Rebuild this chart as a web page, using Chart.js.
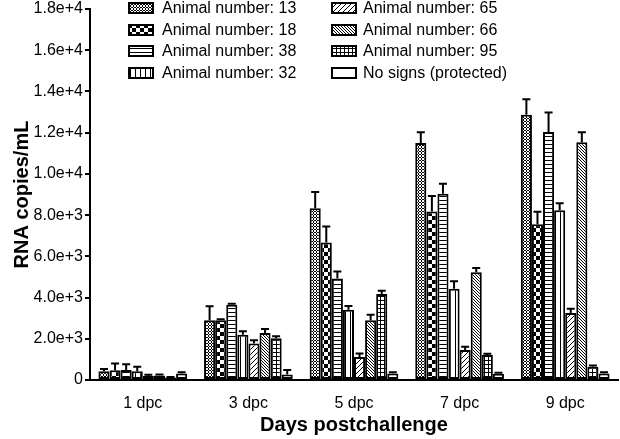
<!DOCTYPE html>
<html>
<head>
<meta charset="utf-8">
<script src="https://cdn.jsdelivr.net/npm/chart.js@4/dist/chart.umd.min.js"></script>
<style>
html,body{margin:0;padding:0;background:#fff;}
#c{display:block;}
</style>
</head>
<body>
<canvas id="c" width="620" height="439"></canvas>
<script>
// ---- data ----
const categories = ['1 dpc','3 dpc','5 dpc','7 dpc','9 dpc'];
const seriesLabels = ['Animal number: 13','Animal number: 18','Animal number: 38','Animal number: 32',
                      'Animal number: 65','Animal number: 66','Animal number: 95','No signs (protected)'];
const a13 = [430, 2900, 8330, 11500, 12870];
const a18 = [470, 2900, 6670, 8170, 7560];
const a38 = [480, 3650, 4920, 9040, 12030];
const a32 = [430, 2190, 3410, 4430, 8240];
const a65 = [200, 1770, 1120, 1450, 3250];
const a66 = [220, 2280, 2900, 5230, 11530];
const a95 = [120, 2030, 4170, 1210, 640];
const aNS = [320, 270, 320, 300, 320];
const e13 = [100, 680, 790, 520, 750];
const e18 = [330, 50, 780, 760, 600];
const e38 = [280, 50, 340, 480, 950];
const e32 = [210, 180, 180, 360, 340];
const e65 = [50, 160, 170, 160, 210];
const e66 = [50, 200, 270, 210, 490];
const e95 = [30, 90, 160, 60, 60];
const eNS = [50, 210, 50, 50, 60];
const yTicksMax = 18000, yStep = 2000;

// ---- patterns ----
function makePattern(w, h, draw){
  const c = document.createElement('canvas'); c.width = w; c.height = h;
  const g = c.getContext('2d');
  g.fillStyle = '#fff'; g.fillRect(0,0,w,h);
  g.fillStyle = '#000';
  draw(g, w, h);
  return document.getElementById('c').getContext('2d').createPattern(c, 'repeat');
}
const pat = [
  makePattern(3,3,(g)=>{ g.fillRect(1,0,1,1); g.fillRect(0,1,1,1); g.fillRect(2,1,1,1); g.fillRect(1,2,1,1); }),
  makePattern(8,8,(g)=>{ g.fillRect(0,0,4,4); g.fillRect(4,4,4,4); }),
  makePattern(4,4,(g)=>{ g.fillRect(0,0,4,1); }),
  makePattern(5,5,(g)=>{ g.fillRect(0,0,1,5); }),
  makePattern(5,5,(g)=>{ for(let i=0;i<5;i++) g.fillRect(4-i,i,1,1); }),
  makePattern(3,3,(g)=>{ for(let i=0;i<3;i++) g.fillRect(i,i,1,1); }),
  makePattern(4,4,(g)=>{ g.fillRect(0,0,4,1); g.fillRect(0,0,1,4); }),
  '#ffffff'
];

const values = [a13,a18,a38,a32,a65,a66,a95,aNS];
const errors = [e13,e18,e38,e32,e65,e66,e95,eNS];
const FONT = "'Liberation Sans', Arial, Helvetica, sans-serif";

const datasets = values.map((v,i)=>({
  label: seriesLabels[i],
  data: v,
  errs: errors[i],
  backgroundColor: pat[i],
  borderColor: '#000',
  borderWidth: 2,
  borderSkipped: false
}));

const errorBarPlugin = {
  id: 'errorBars',
  afterDatasetsDraw(chart){
    const ctx = chart.ctx, ys = chart.scales.y;
    ctx.save();
    ctx.strokeStyle = '#000'; ctx.lineWidth = 2;
    chart.data.datasets.forEach((ds, i)=>{
      const meta = chart.getDatasetMeta(i);
      meta.data.forEach((el, j)=>{
        const v = ds.data[j], e = ds.errs[j];
        const yTop = ys.getPixelForValue(v);
        const yE = ys.getPixelForValue(v + e);
        ctx.beginPath();
        ctx.moveTo(el.x, yTop); ctx.lineTo(el.x, yE);
        ctx.moveTo(el.x - 4, yE); ctx.lineTo(el.x + 4, yE);
        ctx.stroke();
      });
    });
    ctx.restore();
  }
};

const legendPlugin = {
  id: 'customLegend',
  afterDraw(chart){
    const ctx = chart.ctx;
    ctx.save();
    const cols = [{bx:129, tx:162},{bx:332, tx:363}];
    const rows = [8, 30, 51, 73];
    chart.data.datasets.forEach((ds, i)=>{
      const col = cols[Math.floor(i/4)], yc = rows[i%4];
      ctx.fillStyle = ds.backgroundColor;
      ctx.fillRect(col.bx, yc-5, 24, 10);
      ctx.strokeStyle = '#000'; ctx.lineWidth = 2;
      ctx.strokeRect(col.bx, yc-5, 24, 10);
      ctx.fillStyle = '#000';
      ctx.font = '16px ' + FONT;
      ctx.textBaseline = 'middle';
      ctx.textAlign = 'left';
      ctx.fillText(ds.label, col.tx, yc + 1);
    });
    ctx.restore();
  }
};

new Chart(document.getElementById('c'), {
  type: 'bar',
  data: { labels: categories, datasets },
  plugins: [errorBarPlugin, legendPlugin],
  options: {
    responsive: false,
    animation: false,
    devicePixelRatio: 1,
    layout: { padding: { left: 0, right: 2, top: 9, bottom: 0 } },
    datasets: { bar: { categoryPercentage: 0.84, barPercentage: 1 } },
    plugins: { legend: { display: false }, tooltip: { enabled: false } },
    scales: {
      x: {
        grid: { display: false },
        border: { color: '#000', width: 2 },
        ticks: { color: '#000', font: { family: FONT, size: 16 }, padding: 6 },
        title: { display: true, text: 'Days postchallenge', color: '#000',
                 font: { family: FONT, size: 20, weight: 'bold' }, padding: { top: 0, bottom: 2 } },
        afterFit(s){ s.height = 59; }
      },
      y: {
        min: 0, max: yTicksMax,
        border: { color: '#000', width: 2 },
        grid: { drawOnChartArea: false, drawTicks: true, tickLength: 5, color: '#000', lineWidth: 2 },
        ticks: { stepSize: yStep, color: '#000', font: { family: FONT, size: 16 }, padding: 2,
                 callback: (v)=> v === 0 ? '0' : Number(v).toExponential(1) },
        title: { display: true, text: 'RNA copies/mL', color: '#000',
                 font: { family: FONT, size: 20, weight: 'bold' }, padding: { top: 10, bottom: 0 } },
        afterFit(s){ s.width = 90; s.paddingTop = 0; }
      }
    }
  }
});
</script>
</body>
</html>
